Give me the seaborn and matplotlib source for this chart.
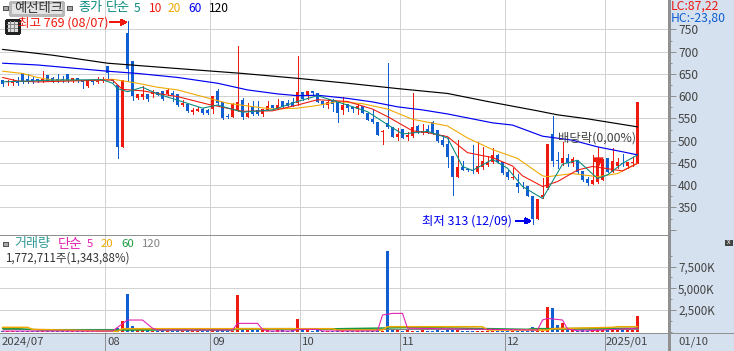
import matplotlib
matplotlib.use("Agg")
import matplotlib.pyplot as plt
from matplotlib.patches import Rectangle
import pandas as pd
import seaborn as sns

sns.set_style("white")
plt.rcParams["font.family"] = ["Noto Sans CJK KR", "DejaVu Sans"]
plt.rcParams["lines.antialiased"] = False
plt.rcParams["patch.antialiased"] = False

# daily candles, 2024/07/03 .. 2025/01/10
opens = [636,631,630,635,653,638,638,638,634,647,
         640,638,639,650,634,640,636,623,636,631,
         634,668,638,625,486,741,678,595,599,605,
         604,609,612,605,606,605,579,582,565,567,
         570,569,570,612,587,555,554,569,591,554,
         575,568,560,569,580,572,588,584,587,584,
         610,602,612,607,590,580,588,586,569,583,
         575,571,577,563,549,542,519,539,530,509,
         526,509,511,533,517,526,542,524,502,493,
         466,419,440,437,435,430,440,446,451,468,
         453,430,415,405,399,398,376,325,373,393,
         516,456,450,462,450,454,432,414,403,406,
         412,462,430,443,450,444,449,450]
closes = [627,634,634,630,632,635,634,633,638,635,
          633,635,636,634,640,633,632,635,632,635,
          638,653,635,486,636,662,600,605,605,594,
          609,603,593,614,603,579,585,567,569,572,
          563,561,600,584,550,554,582,587,554,562,
          559,560,572,578,574,580,575,578,578,610,
          594,612,608,586,579,586,583,563,581,574,
          571,578,563,547,541,513,521,530,509,514,
          506,512,530,520,521,518,517,500,491,464,
          419,440,434,433,431,443,455,451,468,453,
          428,419,419,395,397,376,323,370,377,492,
          454,454,462,450,458,429,412,404,412,456,
          456,430,454,451,447,451,451,586]
highs = [636,636,639,642,653,650,644,638,656,647,
         642,650,645,650,640,640,636,636,636,644,
         644,668,639,625,636,769,678,605,623,605,
         614,609,612,615,612,605,591,582,573,575,
         573,570,600,617,587,559,584,713,595,584,
         590,590,572,589,580,593,588,592,595,691,
         610,612,612,607,590,593,593,586,599,583,
         575,583,577,563,571,542,524,675,530,528,
         526,519,607,536,537,536,544,524,513,509,
         466,502,455,437,491,496,485,466,484,471,
         453,435,438,426,408,398,376,370,415,492,
         556,475,498,470,464,456,432,419,468,486,
         456,462,483,462,470,451,464,586]
lows = [623,625,626,625,629,629,629,632,632,633,
        632,632,632,632,632,632,619,621,627,630,
        632,641,632,462,486,634,591,593,593,589,
        599,602,591,603,588,578,578,565,560,566,
        560,560,563,582,549,550,553,567,549,553,
        557,558,556,568,572,571,574,577,577,580,
        592,594,603,586,575,573,567,541,560,566,
        565,560,562,546,539,512,493,529,508,502,
        506,502,509,518,515,517,515,498,489,440,
        378,419,433,431,428,428,437,443,449,450,
        426,413,413,385,394,375,313,324,371,392,
        444,438,445,443,443,428,410,400,402,404,
        411,430,429,438,444,438,444,449]
volumes = [70,60,50,60,110,60,50,50,60,90,
           70,60,50,80,60,50,60,90,50,50,
           60,130,60,385,1230,4340,650,270,270,270,
           90,110,230,120,90,230,80,210,60,50,
           70,60,200,230,150,50,90,4220,280,250,
           260,220,230,200,120,160,170,110,160,1460,
           330,320,90,170,100,60,70,150,120,80,
           60,60,90,130,90,230,70,9290,350,340,
           120,150,90,100,200,60,130,230,120,230,
           320,210,120,80,70,90,60,80,70,60,
           80,60,70,90,60,110,540,230,110,2840,
           2720,770,1000,385,170,130,150,120,230,190,
           210,170,210,180,200,170,190,1773]

# moving averages (bar index, value)
ma120_x = [0,10,21,35,48,59,69,79,89,97,107,111,117,127]
ma120_y = [705,692,674,662,651,640,629,617,606,588,567,558,549,531]
ma60_x = [0,7,21,27,35,43,49,55,59,63,69,74,79,84,89,98,102,108,114,119,124,127]
ma60_y = [674,670,656,651,642,629,614,605,601,602,595,587,576,569,560,540,535,510,501,486,475,468]
ma20_x = [0,4,7,10,17,22,27,31,35,40,45,49,54,59,63,67,72,77,82,89,93,98,103,108,109,114,119,123,126,127]
ma20_y = [656,651,642,636,635,638,629,620,614,599,584,578,571,573,579,588,583,571,548,533,506,480,460,421,419,426,419,426,444,449]
ma10_x = [0,3,7,20,22,24,28,31,35,41,48,54,59,63,69,74,77,82,85,89,93,98,102,104,108,111,115,118,124,127]
ma10_y = [642,634,632,636,636,615,612,606,599,582,566,567,580,592,588,571,554,522,518,509,473,462,443,421,397,408,434,442,432,449]
ma5_x = [0,10,20,22,23,25,28,31,35,40,43,48,54,59,63,69,73,77,80,85,89,92,94,98,101,104,108,112,115,119,121,124,127]
ma5_y = [632,636,637,629,617,610,620,605,591,573,580,564,569,588,601,580,565,536,515,521,506,442,433,458,438,397,370,447,456,415,423,449,468]

vol_ma5_x = [0,22,25,28,30,31,46,47,51,52,53,58,59,63,64,75,76,78,80,81,107,108,109,112,113,115,116,127]
vol_ma5_y = [70,70,1344,1344,400,190,190,960,960,270,80,80,270,270,80,80,1920,2110,2110,400,192,1340,1536,1344,300,120,80,400]
vol_ma20_x = [0,5,6,23,24,66,67,76,77,96,97,109,110,122,123,127]
vol_ma20_y = [500,500,270,40,345,345,190,190,576,576,190,190,345,500,576,576]
vol_ma60_x = [0,3,8,11,46,47,58,59,76,83,105,106,127]
vol_ma60_y = [345,345,190,190,190,345,345,270,420,500,270,345,400]
vol_ma120_x = [0,127]
vol_ma120_y = [270,270]

price_ticks = [300,350,400,450,500,550,600,650,700,750]
price_labels = ["","350","400","450","500","550","600","650","700","750"]
vol_ticks = [2500,5000,7500]
vol_labels = ["2,500K","5,000K","7,500K"]
month_pos = [20.5,41.5,59.5,79.5,100.5,120.5]
month_labels = ["08","09","10","11","12","2025/01"]

BLUE = "#0f5fd2"
RED = "#ee1a10"
TEAL = "#0a8a80"
ORANGE = "#f0a800"
GRID = "#d2d2d2"
EDGE = "#909090"
PANEL = "#d6e1ef"
THIN = 0.72
LINE = 0.78

df = pd.DataFrame({"i": range(len(opens)), "o": opens, "c": closes, "h": highs, "l": lows, "v": volumes})
df["dir"] = ["up" if c >= o else "down" for o, c in zip(opens, closes)]
colors = {"up": RED, "down": BLUE}
bar_colors = df["dir"].map(colors)

W, H = 734, 351
fig = plt.figure(figsize=(W / 100, H / 100), dpi=100, facecolor=PANEL)


def px_axes(x0, y0, x1, y1):
    return fig.add_axes([x0 / W, 1 - y1 / H, (x1 - x0) / W, (y1 - y0) / H])


def ma_line(axis, xs, ys, col, width=LINE, order=5):
    # antialiasing stays on here: aliased strokes come out two pixels wide
    sns.lineplot(x=xs, y=ys, color=col, linewidth=width, estimator=None, sort=False,
                 antialiased=True, ax=axis, zorder=order)


ax = px_axes(0, 0, 669, 235)
axv = px_axes(0, 235, 669, 333)
for a in (ax, axv):
    a.set_facecolor("white")
    a.set_xlim(-0.5, 133.3)
    for s in a.spines.values():
        s.set_visible(False)
ax.set_ylim(288, 816)
axv.set_ylim(-150, 11140)

# grid
ax.hlines(price_ticks[1:], -0.5, 133.3, color=GRID, lw=THIN, zorder=1)
axv.hlines(vol_ticks, -0.5, 133.3, color=GRID, lw=THIN, zorder=1)
for a in (ax, axv):
    a.vlines(month_pos, 0, 1, transform=a.get_xaxis_transform(), color=GRID, lw=THIN, zorder=1)

# candles
ax.vlines(df["i"], df["l"], df["h"], color=bar_colors, lw=THIN, zorder=3)
ax.bar(df["i"], (df["c"] - df["o"]).abs(), bottom=df[["o", "c"]].min(axis=1), width=0.66,
       color=bar_colors, linewidth=0, zorder=4)

# price moving averages
for xs, ys, col in [(ma120_x, ma120_y, "black"), (ma60_x, ma60_y, "#0000f0"),
                    (ma20_x, ma20_y, ORANGE), (ma10_x, ma10_y, RED), (ma5_x, ma5_y, TEAL)]:
    ma_line(ax, xs, ys, col, width=0.85 if col in ("black", "#0000f0") else LINE)

# volume
sns.barplot(data=df, x="i", y="v", hue="dir", palette=colors, native_scale=True, dodge=False,
            width=0.66, saturation=1, legend=False, ax=axv, zorder=3, linewidth=0)
ma_line(axv, vol_ma120_x, vol_ma120_y, "#808080", order=4)
ma_line(axv, vol_ma60_x, vol_ma60_y, "#1a9a40", width=1.1, order=5)
ma_line(axv, vol_ma20_x, vol_ma20_y, ORANGE, width=1.1, order=6)
ma_line(axv, vol_ma5_x, vol_ma5_y, "#e020b0", order=7)
axv.set_xlim(-0.5, 133.3)
axv.set_ylim(-150, 11140)

# axes ticks on the right side
ax.yaxis.tick_right()
ax.set_yticks(price_ticks, price_labels)
ax.set_yticks([325,375,425,475,525,575,625,675,725], minor=True)
axv.yaxis.tick_right()
axv.set_yticks(vol_ticks, vol_labels)
axv.set_yticks([0,1250,3750,6250,8750], minor=True)
for a, size in ((ax, 8.7), (axv, 8.4)):
    a.tick_params(axis="y", which="major", length=5, width=THIN, color=EDGE, labelsize=size,
                  labelcolor="#444444", pad=1.5, right=True)
    a.tick_params(axis="y", which="minor", length=2.5, width=THIN, color=EDGE, right=True)
    a.set_xlabel("")
    a.set_ylabel("")
ax.set_xticks([])

axv.set_xticks(month_pos, [""] * len(month_pos))
axv.tick_params(axis="x", length=13, width=THIN, color=EDGE, pad=0, bottom=True)

# overlay in picture pixels for the header texts and icons
ov = fig.add_axes([0, 0, 1, 1], zorder=10)
ov.set_xlim(0, W)
ov.set_ylim(H, 0)
ov.axis("off")
ov.patch.set_alpha(0)

ov.plot([0, 669], [235, 235], color=EDGE, lw=THIN)
ov.plot([0, 734], [333, 333], color=EDGE, lw=THIN)
ov.plot([669, 669], [0, 351], color=EDGE, lw=1.0)


def label(x, y, s, col, size=8.6, ha="left"):
    ov.text(x, y, s, color=col, fontsize=size, ha=ha, va="center")


def square(x, y):
    ov.add_patch(Rectangle((x, y), 4.5, 4.5, facecolor="#a8a8a8", edgecolor="#555555", lw=0.6))


square(3, 5.5)
ov.add_patch(Rectangle((10, 2), 53, 13, facecolor="#e4e4e4", edgecolor="#b8b8b8", lw=0.8))
label(38.5, 8, "예선테크", "#333333", size=9.6, ha="center")
square(67, 5.5)
label(78, 8, "종가", TEAL, size=9.4)
label(106, 8, "단순", TEAL, size=9.4)
label(134, 8, "5", TEAL)
label(149, 8, "10", RED)
label(168, 8, "20", ORANGE)
label(188, 8, "60", "#0000f0")
label(209, 8, "120", "black")

label(18, 23, "최고 769 (08/07)", RED, size=9)
ax.annotate("", xy=(24.9, 766), xytext=(21.4, 766), arrowprops=dict(arrowstyle="-|>", color=RED, lw=THIN, mutation_scale=9, shrinkA=0, shrinkB=0))
ov.add_patch(Rectangle((5.5, 19.5), 13, 13, facecolor="#dddddd", edgecolor="#222222", lw=0.8))
for k in (9.5, 13.5):
    ov.plot([k, k], [21, 31], color="#888888", lw=0.5)
for k in (23.5, 27.5):
    ov.plot([7, 17], [k, k], color="#888888", lw=0.5)

label(422, 221, "최저 313 (12/09)", "#0000f0", size=8.9)
ax.annotate("", xy=(105.8, 320), xytext=(102.6, 320), arrowprops=dict(arrowstyle="-|>", color="#0000f0", lw=THIN, mutation_scale=9, shrinkA=0, shrinkB=0))

label(558, 138, "배당락(0,00%)", "#444444", size=8.9)
ax.scatter([119], [452], marker="v", s=55, color=RED, linewidths=0, zorder=6)
ax.hlines([456], 118, 120, color=RED, lw=1, zorder=6)

label(671, 6.5, "LC:87,22", RED, size=8.8)
label(671, 18, "HC:-23,80", BLUE, size=8.8)

square(3, 241.5)
label(14.5, 244, "거래량", "#2f9a94", size=9.4)
label(58, 244, "단순", "#e020b0", size=9.6)
label(87, 244, "5", "#e020b0", size=8.2)
label(101, 244, "20", ORANGE, size=8.2)
label(121, 244, "60", "#1a9a40", size=8.2)
label(141.5, 244, "120", "#808080", size=8.2)
label(5, 258, "1,772,711주(1,343,88%)", "#333333", size=8.3)

ov.add_patch(Rectangle((725, 240), 6.5, 5, facecolor="#444444", edgecolor="#444444", lw=0.5))
ov.text(728.2, 242.2, "x", color="white", fontsize=5, ha="center", va="center")

for x, s in zip([2, 107, 212, 302, 402, 507, 606, 678],
                ["2024/07"] + month_labels + ["01/10"]):
    label(x, 342, s, "#444444", size=8.2)

fig.savefig("out.png", dpi=100, facecolor=PANEL)
